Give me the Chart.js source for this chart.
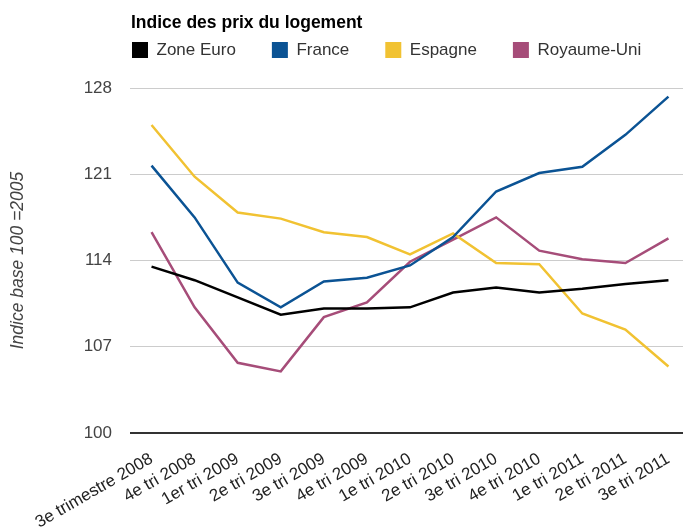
<!DOCTYPE html>
<html>
<head>
<meta charset="utf-8">
<script src="https://cdn.jsdelivr.net/npm/chart.js@4"></script>
<style>
  html, body { margin: 0; padding: 0; background: #fff; overflow: hidden; }
  canvas { display: block; }
</style>
</head>
<body>
<canvas id="chart1" width="690" height="529"></canvas>
<script>
// Quarters
var quarters = ["3e trimestre 2008", "4e tri 2008", "1er tri 2009", "2e tri 2009", "3e tri 2009", "4e tri 2009",
  "1e tri 2010", "2e tri 2010", "3e tri 2010", "4e tri 2010", "1e tri 2011", "2e tri 2011", "3e tri 2011"];

// Index values (base 100 = 2005)
var zoneEuro = [113.5, 112.4, 111.0, 109.6, 110.1, 110.1, 110.2, 111.4, 111.8, 111.4, 111.7, 112.1, 112.4];
var france = [121.7, 117.5, 112.2, 110.2, 112.3, 112.6, 113.6, 115.9, 119.6, 121.1, 121.6, 124.2, 127.3];
var espagne = [125.0, 120.8, 117.9, 117.4, 116.3, 115.9, 114.5, 116.2, 113.8, 113.7, 109.7, 108.4, 105.4];
var royaumeUni = [116.3, 110.2, 105.7, 105.0, 109.4, 110.6, 113.9, 115.7, 117.5, 114.8, 114.1, 113.8, 115.8];

var yTicks = [100, 107, 114, 121, 128];

function serie(label, data, color) {
  return {
    label: label,
    data: data,
    borderColor: color,
    backgroundColor: color,
    borderWidth: 2.5,
    pointRadius: 0,
    tension: 0
  };
}

//Move title and legend over the plot's left edge
var placeHeader = {
  id: 'placeHeader',
  afterLayout: function(chart) {
    var left = chart.chartArea.left;
    chart.titleBlock.left = left + 1;
    chart.legend.left = left + 2 - chart.legend.options.labels.padding;
    chart.legend.top -= 19.5;
  }
};

var ctx = document.getElementById("chart1").getContext('2d');

var myChart = new Chart(ctx, {
  type: 'line',
  data: {
    labels: quarters,
    datasets: [
      serie("Zone Euro", zoneEuro, "#000000"),
      serie("France", france, "#0b5394"),
      serie("Espagne", espagne, "#f1c232"),
      serie("Royaume-Uni", royaumeUni, "#a64d79")
    ]
  },
  plugins: [placeHeader],
  options: {
    responsive: false,
    animation: false,
    devicePixelRatio: 1,
    layout: { padding: 0 },
    plugins: {
      title: {
        display: true,
        text: 'Indice des prix du logement',
        align: 'start',
        color: '#000',
        font: { family: 'Arial, "Liberation Sans"', size: 17.5, weight: 'bold' },
        padding: { top: 13, bottom: -9 }
      },
      legend: {
        display: true,
        align: 'start',
        labels: {
          color: '#333',
          font: { family: 'Arial, "Liberation Sans"', size: 17 },
          boxWidth: 16,
          boxHeight: 16,
          padding: 36,
          generateLabels: function(chart) {
            var items = Chart.defaults.plugins.legend.labels.generateLabels(chart);
            items.forEach(function(it) { it.lineWidth = 0; });
            return items;
          }
        }
      },
      tooltip: { enabled: false }
    },
    scales: {
      x: {
        offset: true,
        grid: { display: false },
        border: { display: false },
        ticks: {
          color: '#222',
          font: { family: 'Arial, "Liberation Sans"', size: 17 },
          minRotation: 30,
          maxRotation: 30,
          autoSkip: false,
          padding: 8
        },
        afterFit: function(s) { s.height = 96; }
      },
      y: {
        min: 100,
        max: 128,
        afterBuildTicks: function(s) {
          s.ticks = yTicks.map(function(v) { return { value: v }; });
        },
        grid: {
          drawTicks: false,
          color: function(c) { return c.tick.value === 100 ? '#333' : '#ccc'; },
          lineWidth: function(c) { return c.tick.value === 100 ? 2 : 1; }
        },
        border: { display: false },
        ticks: {
          color: '#444',
          font: { family: 'Arial, "Liberation Sans"', size: 17 },
          padding: 18
        },
        title: {
          display: true,
          text: 'Indice base 100 =2005',
          color: '#444',
          font: { family: 'Arial, "Liberation Sans"', size: 17.5, style: 'italic' },
          padding: { top: 8, bottom: 0 }
        },
        afterFit: function(s) { s.width = 130; }
      }
    }
  }
});
</script>
</body>
</html>
